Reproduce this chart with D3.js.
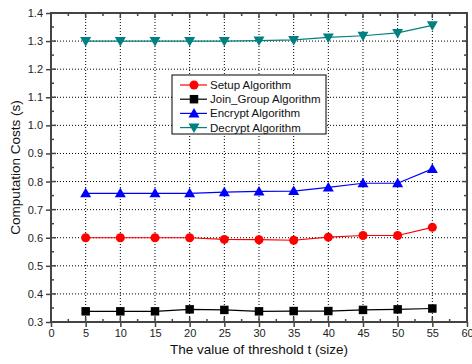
<!DOCTYPE html>
<html>
<head>
<meta charset="utf-8">
<script src="https://cdn.jsdelivr.net/npm/d3@7"></script>
<style>
  body { margin: 0; background: #fff; }
  text { font-family: "Liberation Sans", Arial, sans-serif; }
</style>
</head>
<body>
<svg id="chart" width="472" height="364"></svg>
<script>
const thresholds = [5, 10, 15, 20, 25, 30, 35, 40, 45, 50, 55];
const setupCost   = [0.600, 0.600, 0.600, 0.600, 0.594, 0.593, 0.591, 0.602, 0.608, 0.608, 0.637];
const joinCost    = [0.338, 0.338, 0.338, 0.345, 0.343, 0.338, 0.339, 0.339, 0.343, 0.345, 0.348];
const encryptCost = [0.758, 0.758, 0.758, 0.758, 0.762, 0.765, 0.766, 0.779, 0.794, 0.794, 0.845];
const decryptCost = [1.300, 1.300, 1.300, 1.300, 1.300, 1.302, 1.304, 1.313, 1.319, 1.329, 1.356];
const seriesNames = ["Setup Algorithm", "Join_Group Algorithm", "Encrypt Algorithm", "Decrypt Algorithm"];
const seriesColors = ["#ff0000", "#000000", "#0000ff", "#008080"];
const seriesShapes = ["circle", "square", "triangle", "triangleDown"];
const xTicks = [0, 5, 10, 15, 20, 25, 30, 35, 40, 45, 50, 55, 60];
const yTicks = [0.3, 0.4, 0.5, 0.6, 0.7, 0.8, 0.9, 1.0, 1.1, 1.2, 1.3, 1.4];

const series = [setupCost, joinCost, encryptCost, decryptCost].map((vals, i) => ({
  name: seriesNames[i],
  color: seriesColors[i],
  shape: seriesShapes[i],
  values: thresholds.map((t, j) => ({ t: t, v: vals[j] }))
}));

const svg = d3.select("#chart");
const margin = { left: 51, right: 5, top: 13, bottom: 42 };
const width = +svg.attr("width");
const height = +svg.attr("height");
const innerWidth = width - margin.left - margin.right;
const innerHeight = height - margin.top - margin.bottom;

const xScale = d3.scaleLinear().domain([0, 60]).range([0, innerWidth]);
const yScale = d3.scaleLinear().domain([0.3, 1.4]).range([innerHeight, 0]);

const g = svg.append("g").attr("transform", `translate(${margin.left},${margin.top})`);

// dotted grid
g.append("g").selectAll("line").data(yTicks.slice(1, -1)).enter().append("line")
  .attr("x1", 0).attr("x2", innerWidth)
  .attr("y1", d => yScale(d)).attr("y2", d => yScale(d))
  .attr("stroke", "#000").attr("stroke-width", 1).attr("stroke-dasharray", "1,2");
g.append("g").selectAll("line").data(xTicks.slice(1, -1)).enter().append("line")
  .attr("y1", 0).attr("y2", innerHeight)
  .attr("x1", d => xScale(d)).attr("x2", d => xScale(d))
  .attr("stroke", "#000").attr("stroke-width", 1).attr("stroke-dasharray", "1,2");

const axisColor = "#444";
const minorX = d3.range(2.5, 60, 5);
const minorY = d3.range(0.35, 1.4, 0.1);

// bottom axis
const xAxis = d3.axisBottom(xScale).tickValues(xTicks).tickSize(5).tickPadding(2).tickFormat(d3.format("d"));
const xAxisG = g.append("g").attr("transform", `translate(0,${innerHeight})`).call(xAxis);
// left axis
const yAxis = d3.axisLeft(yScale).tickValues(yTicks).tickSize(5).tickPadding(3).tickFormat(d3.format(".1f"));
const yAxisG = g.append("g").call(yAxis);
[xAxisG, yAxisG].forEach(a => {
  a.select(".domain").remove();
  a.selectAll(".tick line").attr("stroke", axisColor).attr("stroke-width", 1.5);
  a.selectAll(".tick text").attr("fill", "#222").style("font-size", "11px")
    .style("font-family", "'Liberation Sans', Arial, sans-serif");
});

// inner ticks on all four sides
const tickG = g.append("g").attr("stroke", axisColor).attr("stroke-width", 1.5);
xTicks.forEach(d => {
  tickG.append("line").attr("x1", xScale(d)).attr("x2", xScale(d)).attr("y1", innerHeight).attr("y2", innerHeight - 5);
  tickG.append("line").attr("x1", xScale(d)).attr("x2", xScale(d)).attr("y1", 0).attr("y2", 5);
});
minorX.forEach(d => {
  tickG.append("line").attr("x1", xScale(d)).attr("x2", xScale(d)).attr("y1", innerHeight).attr("y2", innerHeight - 3);
  tickG.append("line").attr("x1", xScale(d)).attr("x2", xScale(d)).attr("y1", 0).attr("y2", 3);
});
yTicks.forEach(d => {
  tickG.append("line").attr("y1", yScale(d)).attr("y2", yScale(d)).attr("x1", 0).attr("x2", 5);
  tickG.append("line").attr("y1", yScale(d)).attr("y2", yScale(d)).attr("x1", innerWidth).attr("x2", innerWidth - 5);
});
minorY.forEach(d => {
  tickG.append("line").attr("y1", yScale(d)).attr("y2", yScale(d)).attr("x1", 0).attr("x2", 3);
  tickG.append("line").attr("y1", yScale(d)).attr("y2", yScale(d)).attr("x1", innerWidth).attr("x2", innerWidth - 3);
});

// frame
g.append("rect").attr("width", innerWidth).attr("height", innerHeight)
  .attr("fill", "none").attr("stroke", axisColor).attr("stroke-width", 2);

// marker shapes
function markerPath(shape) {
  if (shape === "circle") return d3.symbol().type(d3.symbolCircle).size(64)();
  if (shape === "square") return d3.symbol().type(d3.symbolSquare).size(72)();
  if (shape === "triangle") return "M0,-5.5L5.5,4L-5.5,4Z";
  return "M0,5.5L5.5,-4L-5.5,-4Z";
}

const line = d3.line().x(d => xScale(d.t)).y(d => yScale(d.v));

const seriesG = g.selectAll(".series").data(series).enter().append("g").attr("class", "series");
seriesG.append("path")
  .attr("d", d => line(d.values))
  .attr("fill", "none")
  .attr("stroke", d => d.color)
  .attr("stroke-width", 1.2);
seriesG.each(function (s) {
  d3.select(this).selectAll("path.mark").data(s.values).enter().append("path")
    .attr("class", "mark")
    .attr("d", markerPath(s.shape))
    .attr("transform", d => `translate(${xScale(d.t)},${yScale(d.v)})`)
    .attr("fill", s.color);
});

// legend
const legend = svg.append("g").attr("transform", "translate(172,75)");
legend.append("rect").attr("width", 154).attr("height", 59)
  .attr("fill", "#fff").attr("stroke", "#000").attr("stroke-width", 1);
series.forEach((s, i) => {
  const y = 10 + i * 14.2;
  const row = legend.append("g").attr("transform", `translate(0,${y})`);
  row.append("line").attr("x1", 8).attr("x2", 35).attr("y1", 0).attr("y2", 0)
    .attr("stroke", s.color).attr("stroke-width", 1.2);
  row.append("path").attr("d", markerPath(s.shape)).attr("transform", "translate(22,0)").attr("fill", s.color);
  row.append("text").attr("x", 38).attr("y", 0).attr("dy", "0.35em")
    .style("font-size", "11.5px").attr("fill", "#111").text(s.name);
});

// axis titles
svg.append("text")
  .attr("x", margin.left + innerWidth / 2).attr("y", 354)
  .attr("text-anchor", "middle").style("font-size", "13.5px").attr("fill", "#111")
  .text("The value of threshold t (size)");
svg.append("text")
  .attr("transform", `translate(20,${margin.top + innerHeight / 2}) rotate(-90)`)
  .attr("text-anchor", "middle").style("font-size", "13.5px").attr("fill", "#111")
  .text("Computation Costs (s)");
</script>
</body>
</html>
